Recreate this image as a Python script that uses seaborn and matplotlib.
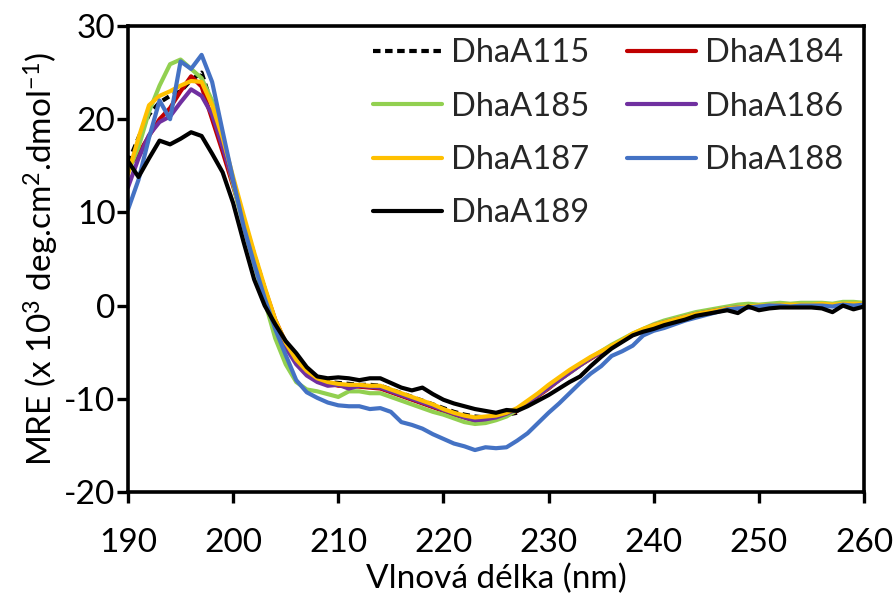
import matplotlib
matplotlib.use("Agg")
import matplotlib.pyplot as plt
import seaborn as sns
import numpy as np

# ---------------- data ----------------
wavelength = list(range(190, 261))
wavelength_115 = list(range(190, 228))

dhaA115 = [15.3, 18.0, 20.5, 21.8, 22.5, 23.0, 24.2, 25.0, 21.5, 17.5,
           13.5, 9.3, 5.5, 1.8, -1.8, -4.3, -6.0, -7.2, -7.9, -8.2,
           -8.3, -8.4, -8.5, -8.5, -8.6, -9.0, -9.4, -9.8, -10.2, -10.6,
           -11.0, -11.4, -11.7, -11.9, -12.0, -11.9, -11.7, -11.5]

dhaA184 = [14.8, 16.3, 18.2, 20.0, 21.2, 23.0, 24.6, 23.5, 20.0, 16.5,
           12.8, 9.0, 5.3, 1.8, -1.5, -4.0, -5.8, -7.0, -7.8, -8.3,
           -8.6, -8.6, -8.7, -8.8, -8.9, -9.3, -9.7, -10.1, -10.5, -10.9,
           -11.3, -11.7, -12.0, -12.4, -12.3, -12.2, -11.8, -11.3, -10.5, -9.7,
           -8.9, -8.0, -7.2, -6.4, -5.7, -5.0, -4.4, -3.8, -3.1, -2.6,
           -2.1, -1.8, -1.5, -1.2, -0.9, -0.7, -0.5, -0.3, -0.2, -0.1,
           0.0, 0.0, 0.0, 0.1, 0.0, 0.1, 0.1, 0.0, 0.1, 0.1, 0.0]

dhaA185 = [14.3, 17.0, 20.8, 23.6, 25.9, 26.4, 25.4, 24.4, 22.0, 17.5,
           13.0, 8.6, 4.5, 0.5, -3.5, -6.3, -8.2, -9.0, -9.2, -9.5,
           -9.8, -9.2, -9.2, -9.4, -9.4, -9.8, -10.2, -10.6, -11.0, -11.4,
           -11.7, -12.1, -12.5, -12.7, -12.6, -12.3, -11.9, -11.2, -10.4, -9.6,
           -8.8, -8.0, -7.2, -6.4, -5.6, -4.9, -4.2, -3.6, -3.0, -2.5,
           -2.0, -1.6, -1.3, -1.0, -0.7, -0.5, -0.3, -0.1, 0.1, 0.2,
           0.1, 0.2, 0.3, 0.2, 0.3, 0.3, 0.3, 0.2, 0.4, 0.4, 0.3]

dhaA186 = [12.7, 15.8, 18.3, 19.7, 20.3, 21.8, 23.2, 22.5, 20.5, 17.0,
           13.3, 9.3, 5.3, 1.5, -2.0, -4.5, -6.3, -7.5, -8.2, -8.6,
           -8.5, -8.9, -8.6, -8.7, -8.8, -9.2, -9.6, -10.0, -10.4, -10.8,
           -11.2, -11.6, -12.0, -12.3, -12.2, -12.0, -11.6, -11.1, -10.4, -9.6,
           -8.8, -8.0, -7.2, -6.4, -5.6, -5.0, -4.4, -3.8, -3.1, -2.6,
           -2.1, -1.8, -1.5, -1.2, -0.9, -0.7, -0.5, -0.3, -0.2, -0.2,
           -0.1, 0.0, -0.1, 0.0, 0.0, 0.0, -0.1, 0.0, 0.0, 0.1, 0.0]

dhaA187 = [14.1, 18.0, 21.5, 22.5, 23.0, 23.6, 24.1, 24.0, 21.5, 18.0,
           13.8, 9.7, 5.7, 2.0, -1.5, -4.0, -5.8, -7.0, -7.8, -8.2,
           -8.4, -8.5, -8.5, -8.6, -8.6, -9.0, -9.4, -9.8, -10.2, -10.6,
           -11.1, -11.5, -11.8, -12.0, -11.9, -11.8, -11.5, -11.0, -10.2, -9.4,
           -8.5, -7.7, -6.9, -6.2, -5.5, -4.9, -4.3, -3.7, -3.0, -2.5,
           -2.1, -1.8, -1.5, -1.2, -0.9, -0.7, -0.5, -0.3, -0.2, -0.1,
           0.0, 0.0, 0.1, 0.1, 0.1, 0.1, 0.2, 0.1, 0.2, 0.2, 0.2]

dhaA188 = [10.3, 13.5, 18.0, 22.0, 20.0, 26.2, 25.4, 26.9, 24.0, 18.7,
           13.5, 8.5, 4.5, 0.8, -2.5, -5.3, -8.0, -9.3, -9.9, -10.4,
           -10.7, -10.8, -10.8, -11.1, -11.0, -11.4, -12.5, -12.8, -13.2, -13.8,
           -14.3, -14.8, -15.1, -15.5, -15.2, -15.3, -15.2, -14.5, -13.7, -12.6,
           -11.5, -10.5, -9.4, -8.3, -7.3, -6.5, -5.4, -4.9, -4.3, -3.2,
           -2.7, -2.4, -2.0, -1.6, -1.3, -1.0, -0.7, -0.4, -0.3, -0.2,
           -0.1, 0.0, 0.0, -0.1, 0.0, 0.0, 0.0, -0.1, 0.1, 0.0, 0.1]

dhaA189 = [15.5, 13.8, 15.8, 17.7, 17.3, 17.9, 18.6, 18.2, 16.3, 14.3,
           11.0, 6.8, 2.8, 0.0, -2.0, -3.8, -5.1, -6.6, -7.6, -7.8,
           -7.7, -7.8, -8.0, -7.8, -7.8, -8.3, -8.8, -9.1, -8.8, -9.5,
           -10.1, -10.5, -10.8, -11.1, -11.3, -11.5, -11.2, -11.3, -10.8, -10.2,
           -9.6, -8.9, -8.2, -7.6, -6.5, -5.5, -4.6, -3.9, -3.2, -2.8,
           -2.5, -2.1, -1.8, -1.5, -1.1, -0.9, -0.7, -0.5, -0.8, -0.1,
           -0.5, -0.3, -0.2, -0.2, -0.2, -0.2, -0.3, -0.7, 0.0, -0.4, -0.1]

series_names = ["DhaA115", "DhaA184", "DhaA185", "DhaA186", "DhaA187", "DhaA188", "DhaA189"]
series_colors = ["#000000", "#C00000", "#92D050", "#7030A0", "#FFC000", "#4472C4", "#000000"]

x_ticks = [190, 200, 210, 220, 230, 240, 250, 260]
y_ticks = [-20, -10, 0, 10, 20, 30]

# ---------------- style ----------------
sns.set_theme(style="ticks")
plt.rcParams["font.family"] = ["Lato", "DejaVu Sans"]
plt.rcParams["mathtext.fontset"] = "custom"
plt.rcParams["mathtext.rm"] = "Lato"
plt.rcParams["mathtext.it"] = "Lato:italic"
plt.rcParams["mathtext.bf"] = "Lato:bold"
plt.rcParams["axes.unicode_minus"] = False

W, H = 895, 598
fig = plt.figure(figsize=(W / 100, H / 100), dpi=100)
ax = fig.add_axes([128 / W, 1 - 492 / H, (864 - 128) / W, (492 - 26) / H])

xs_list = [wavelength_115] + [wavelength] * 6
ys_list = [dhaA115, dhaA184, dhaA185, dhaA186, dhaA187, dhaA188, dhaA189]

lw = 3.0
for name, color, xs, ys in zip(series_names, series_colors, xs_list, ys_list):
    kw = dict(color=color, linewidth=lw, label=name)
    if name == "DhaA115":
        kw["dashes"] = (1.8, 1.1)
    sns.lineplot(x=xs, y=ys, ax=ax, **kw)

h, l = ax.get_legend_handles_labels()
hd = dict(zip(l, h))
order = ["DhaA115", "DhaA185", "DhaA187", "DhaA189", "DhaA184", "DhaA186", "DhaA188"]
leg = ax.legend([hd[k] for k in order], order, ncol=2, frameon=False,
                loc="upper left", bbox_to_anchor=((373 - 128) / 736, 1 - (38 - 26) / 466),
                borderpad=0, borderaxespad=0, fontsize=23.5,
                handlelength=2.1, handletextpad=0.3, columnspacing=1.15,
                labelspacing=0.72)

ax.set_xlim(190, 260)
ax.set_ylim(-20, 30)
ax.set_xticks(x_ticks)
ax.set_yticks(y_ticks)
ax.tick_params(axis="both", labelsize=24, width=2.4, length=8, direction="out",
               color="black", labelcolor="black")
ax.tick_params(axis="x", pad=18)
ax.tick_params(axis="y", pad=1)
for s in ax.spines.values():
    s.set_visible(True)
    s.set_linewidth(2.6)
    s.set_color("black")

ax.set_xlabel("Vlnová délka (nm)", fontsize=24, labelpad=4, color="black")
ax.set_ylabel(r"MRE (x 10$^{3}$ deg.cm$^{2}$.dmol$^{\mathregular{-1}}$)", fontsize=24,
              labelpad=2, color="black")

fig.savefig("out.png", dpi=100)
